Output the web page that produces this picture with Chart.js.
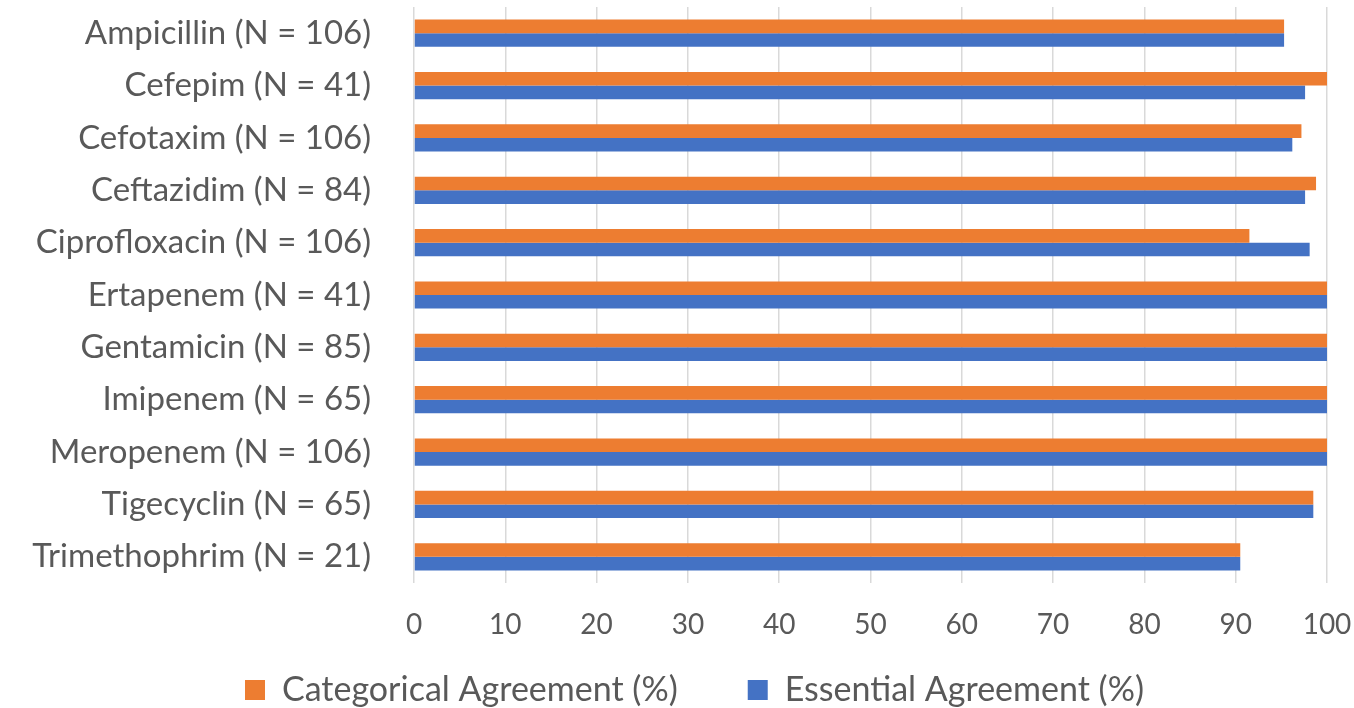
<!DOCTYPE html>
<html>
<head>
<meta charset="utf-8">
<script src="https://cdn.jsdelivr.net/npm/chart.js@4"></script>
<style>
  html, body { margin: 0; padding: 0; background: #fff; }
  #wrap { width: 1354px; height: 708px; }
</style>
</head>
<body>
<div id="wrap"><canvas id="agreementChart"></canvas></div>
<script>
// antibiotics (top to bottom)
const antibiotics = [
    'Ampicillin (N = 106)', 'Cefepim (N = 41)', 'Cefotaxim (N = 106)', 'Ceftazidim (N = 84)',
    'Ciprofloxacin (N = 106)', 'Ertapenem (N = 41)', 'Gentamicin (N = 85)', 'Imipenem (N = 65)',
    'Meropenem (N = 106)', 'Tigecyclin (N = 65)', 'Trimethophrim (N = 21)'
];
const categoricalAgreement = [95.3, 100, 97.2, 98.8, 91.5, 100, 100, 100, 100, 98.5, 90.5];
const essentialAgreement = [95.3, 97.6, 96.2, 97.6, 98.1, 100, 100, 100, 100, 98.5, 90.5];
const xTicks = [0, 10, 20, 30, 40, 50, 60, 70, 80, 90, 100];

const textColor = '#595959';
const fontFamily = 'Lato, "Open Sans", sans-serif';
const legendPadding = 70;

// keep the legend compact even with wide spacing between the two items
const compactLegend = {
    id: 'compactLegend',
    beforeInit(chart) {
        const legend = chart.legend;
        const fit = legend.fit;
        legend.fit = function () {
            fit.call(this);
            this.height = 58;
        };
    },
    afterLayout(chart) {
        const legend = chart.legend;
        legend.top = 673 - legendPadding;
        legend.left += 31;
        legend.right += 31;
    }
};

const ctx = document.getElementById('agreementChart').getContext('2d');
new Chart(ctx, {
    type: 'bar',
    data: {
        labels: antibiotics,
        datasets: [{
            label: 'Categorical Agreement (%)',
            data: categoricalAgreement,
            backgroundColor: '#ED7D31',
            categoryPercentage: 0.52,
            barPercentage: 1.0
        }, {
            label: 'Essential Agreement (%)',
            data: essentialAgreement,
            backgroundColor: '#4472C4',
            categoryPercentage: 0.52,
            barPercentage: 1.0
        }]
    },
    plugins: [compactLegend],
    options: {
        indexAxis: 'y',
        responsive: true,
        maintainAspectRatio: false,
        animation: false,
        layout: { padding: { top: 7, right: 27, left: 0, bottom: 0 } },
        plugins: {
            tooltip: { enabled: false },
            legend: {
                position: 'bottom',
                labels: {
                    color: textColor,
                    font: { family: fontFamily, size: 34 },
                    boxWidth: 20,
                    boxHeight: 20,
                    padding: legendPadding
                }
            }
        },
        scales: {
            x: {
                min: 0,
                max: 100,
                afterBuildTicks: function (axis) {
                    axis.ticks = xTicks.map(v => ({ value: v }));
                },
                afterFit: function (axis) {
                    axis.height = 67;
                    axis.paddingLeft = 0;
                    axis.paddingRight = 0;
                },
                grid: { color: '#D9D9D9', lineWidth: 1.5, drawTicks: false },
                border: { display: false },
                ticks: {
                    color: textColor,
                    font: { family: fontFamily, size: 28 },
                    padding: 25
                }
            },
            y: {
                afterFit: function (axis) {
                    axis.width = 414;
                    axis.paddingTop = 0;
                    axis.paddingBottom = 0;
                },
                grid: { display: false },
                border: { display: false },
                ticks: {
                    color: textColor,
                    font: { family: fontFamily, size: 33 },
                    padding: 35
                }
            }
        }
    }
});
</script>
</body>
</html>
